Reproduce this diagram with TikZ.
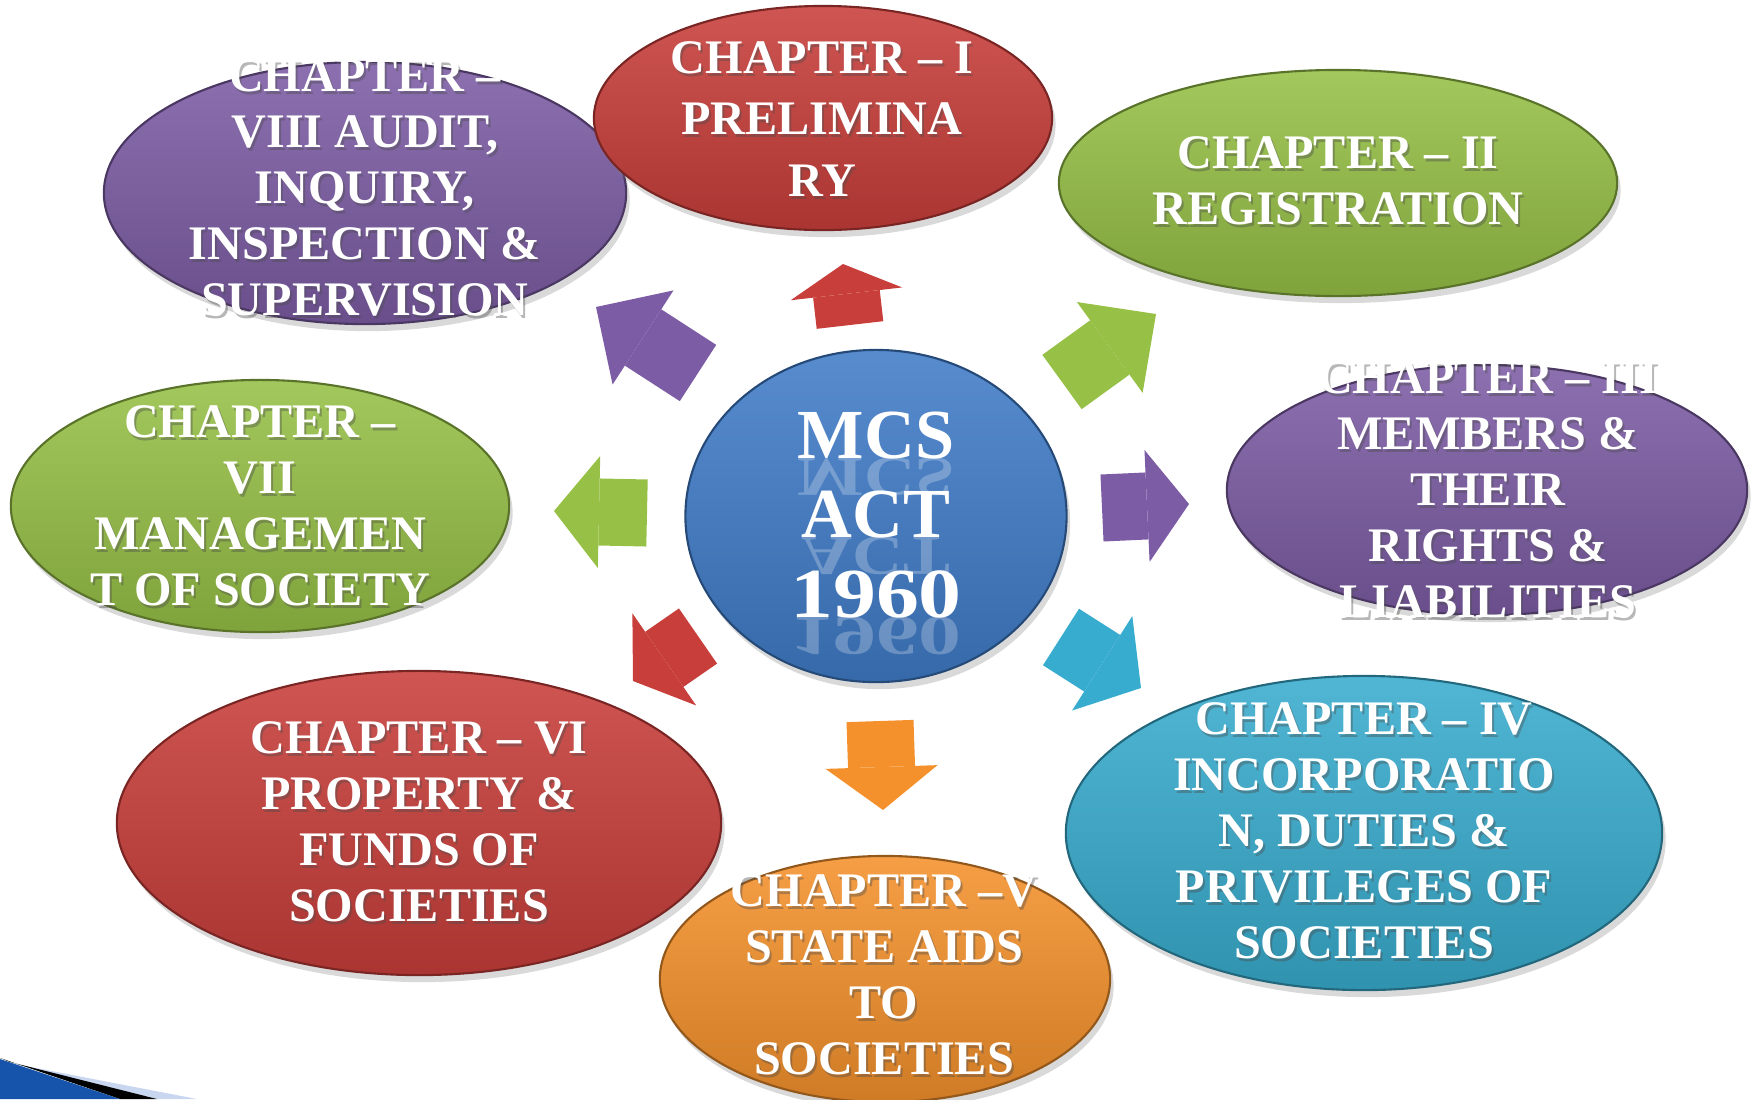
\documentclass[tikz,border=0pt]{standalone}
\usepackage{fontspec}
\setmainfont{Liberation Serif}
\usetikzlibrary{shapes.geometric,arrows.meta,shadows,calc}

\definecolor{chred}{RGB}{200,62,58}
\definecolor{chgreen}{RGB}{150,192,70}
\definecolor{chpurple}{RGB}{124,92,164}
\definecolor{chcyan}{RGB}{56,172,206}
\definecolor{chorange}{RGB}{244,145,44}
\definecolor{chblue}{RGB}{64,124,200}
\definecolor{slideblue}{RGB}{22,84,172}
\definecolor{slidelight}{RGB}{200,214,240}

\tikzset{
  chapter/.style={ellipse, inner sep=0pt, top color=#1!88!white,
    bottom color=#1!85!black, draw=#1!60!black, line width=0.6pt,
    drop shadow={opacity=0.3, shadow xshift=1pt, shadow yshift=-2pt}},
  chaptext/.style={text=white, align=center, inner sep=0pt,
    font=\fontsize{13.7}{15.9}\selectfont\bfseries},
  titleshadow/.style={chaptext, text=black!70, text opacity=0.4},
  acttext/.style={text=white, anchor=base, inner sep=0pt,
    font=\fontsize{20}{24}\selectfont\bfseries},
  bigarrow/.style 2 args={draw=#1, line width=6.7mm,
    -{Triangle[width=11.2mm, length=#2, line width=0pt]}}
}

\newcommand{\chaptitle}[3]{%
  \node[titleshadow] at ($(#2)+(2,3)$) {#3};
  \node[chaptext] (#1) at (#2) {#3};
}

\begin{document}
\begin{tikzpicture}[x=0.01cm, y=-0.01cm]
  \useasboundingbox (0,0) rectangle (1754,1099);

  % chapters round the act
  \node[chapter=chpurple, minimum width=5.22cm, minimum height=2.62cm] (ch8) at (365,193) {};
  \node[chapter=chred, minimum width=4.58cm, minimum height=2.24cm] (ch1) at (823,118) {};
  \node[chapter=chgreen, minimum width=5.58cm, minimum height=2.26cm] (ch2) at (1338,183) {};
  \node[chapter=chpurple, minimum width=5.20cm, minimum height=2.50cm] (ch3) at (1487,490) {};
  \node[chapter=chcyan, minimum width=5.96cm, minimum height=3.14cm] (ch4) at (1364,833) {};
  \node[chapter=chorange, minimum width=4.50cm, minimum height=2.46cm] (ch5) at (885,979) {};
  \node[chapter=chred, minimum width=6.04cm, minimum height=3.04cm] (ch6) at (419,823) {};
  \node[chapter=chgreen, minimum width=4.98cm, minimum height=2.52cm] (ch7) at (260,506) {};
  \node[chapter=chblue, minimum width=3.81cm, minimum height=3.32cm] (mcs) at (876,516) {};

  % arrows
  \coordinate (a1s) at (850,325); \coordinate (a1e) at (843,264);
  \coordinate (a2s) at (1062,382); \coordinate (a2e) at (1156,314);
  \coordinate (a3s) at (1102,508); \coordinate (a3e) at (1189,504);
  \coordinate (a4s) at (1061,637); \coordinate (a4e) at (1141,688);
  \coordinate (a5s) at (880,721); \coordinate (a5e) at (883,810);
  \coordinate (a6s) at (698,636); \coordinate (a6e) at (633,681);
  \coordinate (a7s) at (647,513); \coordinate (a7e) at (554,511);
  \coordinate (a8s) at (698,373); \coordinate (a8e) at (596,307);
  \draw[bigarrow={chred}{3.0mm}] (a1s) -- (a1e);
  \draw[bigarrow={chgreen}{5.7mm}] (a2s) -- (a2e);
  \draw[bigarrow={chpurple}{4.2mm}] (a3s) -- (a3e);
  \draw[bigarrow={chcyan}{4.6mm}] (a4s) -- (a4e);
  \draw[bigarrow={chorange}{4.3mm}] (a5s) -- (a5e);
  \draw[bigarrow={chred}{3.8mm}] (a6s) -- (a6e);
  \draw[bigarrow={chgreen}{4.5mm}] (a7s) -- (a7e);
  \draw[bigarrow={chpurple}{5.6mm}] (a8s) -- (a8e);

  % titles
  \chaptitle{t1}{822,119}{CHAPTER – I\\[1.5pt] PRELIMINA\\[1.5pt] RY}
  \chaptitle{t2}{1338,181}{CHAPTER – II\\ REGISTRATION}
  \chaptitle{t3}{1488,490}{CHAPTER – III\\ MEMBERS \&\\ THEIR\\ RIGHTS \&\\ LIABILITIES}
  \chaptitle{t4}{1364,831}{CHAPTER – IV\\ INCORPORATIO\\ N, DUTIES \&\\ PRIVILEGES OF\\ SOCIETIES}
  \chaptitle{t5}{884,975}{CHAPTER –V\\ STATE AIDS\\ TO\\ SOCIETIES}
  \chaptitle{t6}{419,822}{CHAPTER – VI\\ PROPERTY \&\\ FUNDS OF\\ SOCIETIES}
  \chaptitle{t7}{260,506}{CHAPTER –\\ VII\\ MANAGEMEN\\ T OF SOCIETY}
  \chaptitle{t8}{365,188}{CHAPTER –\\ VIII AUDIT,\\ INQUIRY,\\ INSPECTION \&\\ SUPERVISION}

  % centre text with its reflection
  \node[acttext, opacity=0.25] (r1) at (876,458) {\scalebox{1}[-0.8]{MCS}};
  \node[acttext, opacity=0.25] (r2) at (876,537) {\scalebox{1}[-0.8]{ACT}};
  \node[acttext, opacity=0.25] (r3) at (876,617) {\scalebox{1.22}[-0.8]{1960}};
  \node[acttext] (l1) at (876,458) {MCS};
  \node[acttext] (l2) at (876,537) {ACT};
  \node[acttext] (l3) at (876,617) {\scalebox{1.22}[1]{1960}};

  % slide corner
  \fill[slidelight] (10,1063) -- (197,1099) -- (157,1099) -- cycle;
  \fill[black] (0,1058) -- (10,1062) -- (157,1099) -- (120,1099) -- cycle;
  \fill[slideblue] (0,1059) -- (120,1099) -- (0,1099) -- cycle;
\end{tikzpicture}
\end{document}
